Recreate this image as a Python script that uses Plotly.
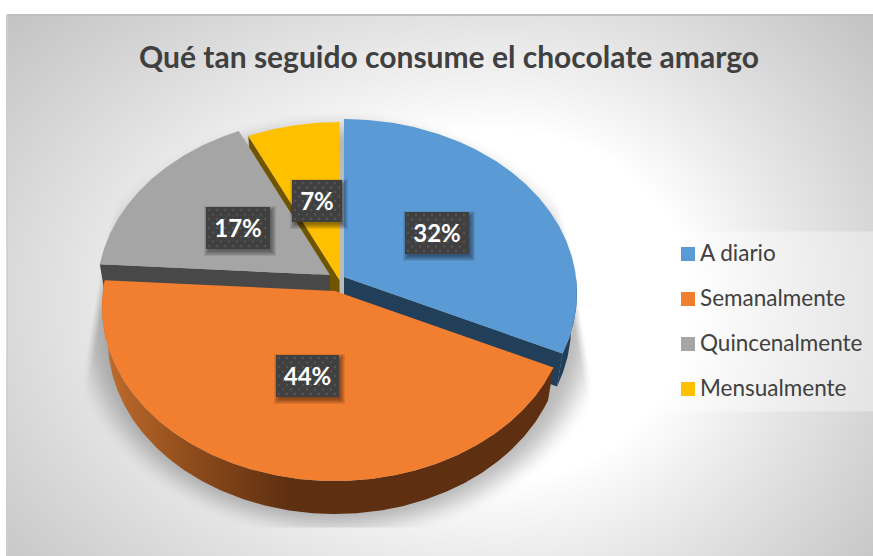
import numpy as np
import plotly.graph_objects as go

# Chart content
TITLE = "Qué tan seguido consume el chocolate amargo"
categories = ["A diario", "Semanalmente", "Quincenalmente", "Mensualmente"]
percentages = [32, 44, 17, 7]

# Slice styling
top_colors = ["#5b9bd5", "#f27e30", "#a5a5a5", "#ffc000"]
wall_colors = ["#223f59", "#5e2f11", "#484848", "#705500"]

# Exploded slice apexes in page pixels
apex_x = [344, 335, 330, 339.5]
apex_y = [277, 291, 275, 280]

# Perspective disc parameters; the underside recedes slightly
R, K, P, DEPTH, FLOOR_SCALE = 232.0, 172.5, 0.092, 33.0, 0.975
W, H = 873, 556


def project(angle_deg, ax, ay, depth=0.0):
    a = np.radians(angle_deg)
    u, v = np.sin(a), np.cos(a)
    s = 1 / (1 + P * v)
    spread = FLOOR_SCALE if depth else 1.0
    return ax + R * u * s * spread, ay - K * v * s + depth


def arc(a0, a1, ax, ay, depth=0.0):
    angles = np.linspace(a0, a1, max(int(abs(a1 - a0)) * 2, 2))
    return project(angles, ax, ay, depth=depth)


def polygon(x, y, color, name=None, **extra):
    return go.Scatter(
        x=list(x), y=list(y), mode="lines", fill="toself", fillcolor=color,
        line=dict(width=0), hoverinfo="skip" if name is None else "name",
        name=name or "", showlegend=False, **extra,
    )


# Page background: radial sheen, legend panel and the soft shadow on the floor
gx = np.arange(7, W + 2, 2.0)
gy = np.arange(16, H + 2, 2.0)
X, Y = np.meshgrid(gx, gy)
dx = np.where(X < 500, (X - 500) / 430, (X - 500) / 320)
dy = np.where(Y < 300, (Y - 300) / 284, (Y - 300) / 300)
d = np.sqrt(dx**2 + dy**2)
bg = 255 - 60 * np.clip((d - 0.6) / 0.92, 0, 1) ** 0.9
panel = (X >= 668) & (Y >= 231) & (Y <= 411)
bg = np.where(panel, bg + (255 - bg) * 0.35, bg)
t = np.sqrt(((X - 338) / 240) ** 2 + ((Y - 325) / 190) ** 2)
soft = np.clip((1.14 - t) / 0.19, 0, 1)
soft = soft * soft * (3 - 2 * soft)
left_ramp = np.clip((X - (100 - (Y - 270) * 0.17)) / 8, 0, 1)
right_ramp = np.clip(((576 + (Y - 290) * 0.17) - X) / 8, 0, 1)
clip = left_ramp * right_ramp * (Y <= 526) * (Y >= 110)
bg = bg * (1 - 0.27 * soft * clip)

fig = go.Figure()
fig.add_trace(go.Heatmap(
    x=gx, y=gy, z=bg, zmin=0, zmax=255, zsmooth="best",
    colorscale=[[0, "#000000"], [1, "#ffffff"]], showscale=False, hoverinfo="skip",
))

# Cumulative slice angles, clockwise from twelve o'clock
edges = np.cumsum([0] + percentages) / sum(percentages) * 360
starts, ends = edges[:-1], edges[1:]
BLUE, ORANGE, GRAY, YELLOW = range(4)


def cut_face(i, angle):
    ax, ay = apex_x[i], apex_y[i]
    ex, ey = project(angle, ax, ay)
    fx, fy = project(angle, ax, ay, depth=DEPTH)
    fig.add_trace(polygon([ax, ex, fx, ax, ax], [ay, ey, fy, ay + DEPTH, ay], wall_colors[i]))


def rim(i, a0, a1, **extra):
    ax, ay = apex_x[i], apex_y[i]
    x0, y0 = arc(a0, a1, ax, ay)
    x1, y1 = arc(a0, a1, ax, ay, depth=DEPTH)
    xs = np.r_[x0, x1[::-1], x0[0]]
    ys = np.r_[y0, y1[::-1], y0[0]]
    fig.add_trace(polygon(xs, ys, wall_colors[i], **extra))


def top(i):
    ax, ay = apex_x[i], apex_y[i]
    x0, y0 = arc(starts[i], ends[i], ax, ay)
    fig.add_trace(polygon(np.r_[ax, x0, ax], np.r_[ay, y0, ay], top_colors[i], name=categories[i]))


# Painted back to front
cut_face(YELLOW, starts[YELLOW])
top(YELLOW)
rim(BLUE, 90, ends[BLUE])
cut_face(BLUE, ends[BLUE])
top(BLUE)
cut_face(GRAY, starts[GRAY])
top(GRAY)
rim(ORANGE, starts[ORANGE], ends[ORANGE],
    fillgradient=dict(type="horizontal", start=108, stop=290,
                      colorscale=[[0, "#bd6b2b"], [0.45, "#8f4c1c"], [1, "#5e2f11"]]))
top(ORANGE)

# Data label plates
label_cx = [437, 307.5, 238, 317]
label_cy = [233, 376, 228, 201]
label_w = [64, 63, 64, 50]
LABEL_H = 42


def rects(grow, ox, oy):
    xs, ys = [], []
    for cx, cy, w in zip(label_cx, label_cy, label_w):
        x0, x1 = cx - w / 2 + ox - grow, cx + w / 2 + ox + grow
        y0, y1 = cy - LABEL_H / 2 + oy - grow, cy + LABEL_H / 2 + oy + grow
        xs += [x0, x1, x1, x0, x0, None]
        ys += [y0, y0, y1, y1, y0, None]
    return xs, ys


for grow in (4, 3, 2, 1, 0, -1):
    xs, ys = rects(grow, 2, 3)
    fig.add_trace(polygon(xs, ys, "rgba(0,0,0,0.085)"))
xs, ys = rects(0, 0, 0)
fig.add_trace(polygon(xs, ys, "#404040"))

dot_x, dot_y = [], []
for cx, cy, w in zip(label_cx, label_cy, label_w):
    for row, yy in enumerate(np.arange(cy - LABEL_H / 2 + 3, cy + LABEL_H / 2 - 1, 4.5)):
        for xx in np.arange(cx - w / 2 + 3 + (row % 2) * 4, cx + w / 2 - 1, 8):
            dot_x.append(xx)
            dot_y.append(yy)
fig.add_trace(go.Scatter(
    x=dot_x, y=dot_y, mode="markers", hoverinfo="skip", showlegend=False,
    marker=dict(size=2.4, color="#555555", line=dict(width=0)),
))
fig.add_trace(go.Scatter(
    x=label_cx, y=[c + 2.5 for c in label_cy], mode="text", hoverinfo="skip", showlegend=False,
    text=[f"{p}%" for p in percentages],
    textposition="middle center",
    textfont=dict(family="Lato", size=24, color="#ffffff", weight=700),
))

# Legend column
legend_y = [254, 299, 344, 389]
fig.add_trace(go.Scatter(
    x=[688] * 4, y=legend_y, mode="markers", hoverinfo="skip", showlegend=False,
    marker=dict(symbol="square", size=14, color=top_colors, line=dict(width=0)),
))
fig.add_trace(go.Scatter(
    x=[700] * 4, y=[v + 1.5 for v in legend_y], mode="text", hoverinfo="skip", showlegend=False,
    text=categories, textposition="middle right",
    textfont=dict(family="Lato", size=22.5, color="#404040"),
))

fig.update_layout(
    width=W, height=H, margin=dict(l=0, r=0, t=0, b=0),
    paper_bgcolor="#ffffff", plot_bgcolor="#ffffff", showlegend=False,
    title=dict(text=TITLE, x=449 / W, xanchor="center", xref="paper",
               y=1 - 57 / H, yanchor="middle", yref="container",
               font=dict(family="Lato", size=30, color="#404040", weight=700)),
    xaxis=dict(range=[0, W], visible=False, fixedrange=True),
    yaxis=dict(range=[H, 0], visible=False, fixedrange=True),
    shapes=[
        dict(type="line", x0=7, x1=W, y0=15, y1=15, line=dict(color="#c0c0c0", width=2), layer="above"),
        dict(type="line", x0=7.5, x1=7.5, y0=15, y1=H, line=dict(color="#cfcfcf", width=1), layer="above"),
    ],
)
fig.write_html("out.html", config=dict(displayModeBar=False))
